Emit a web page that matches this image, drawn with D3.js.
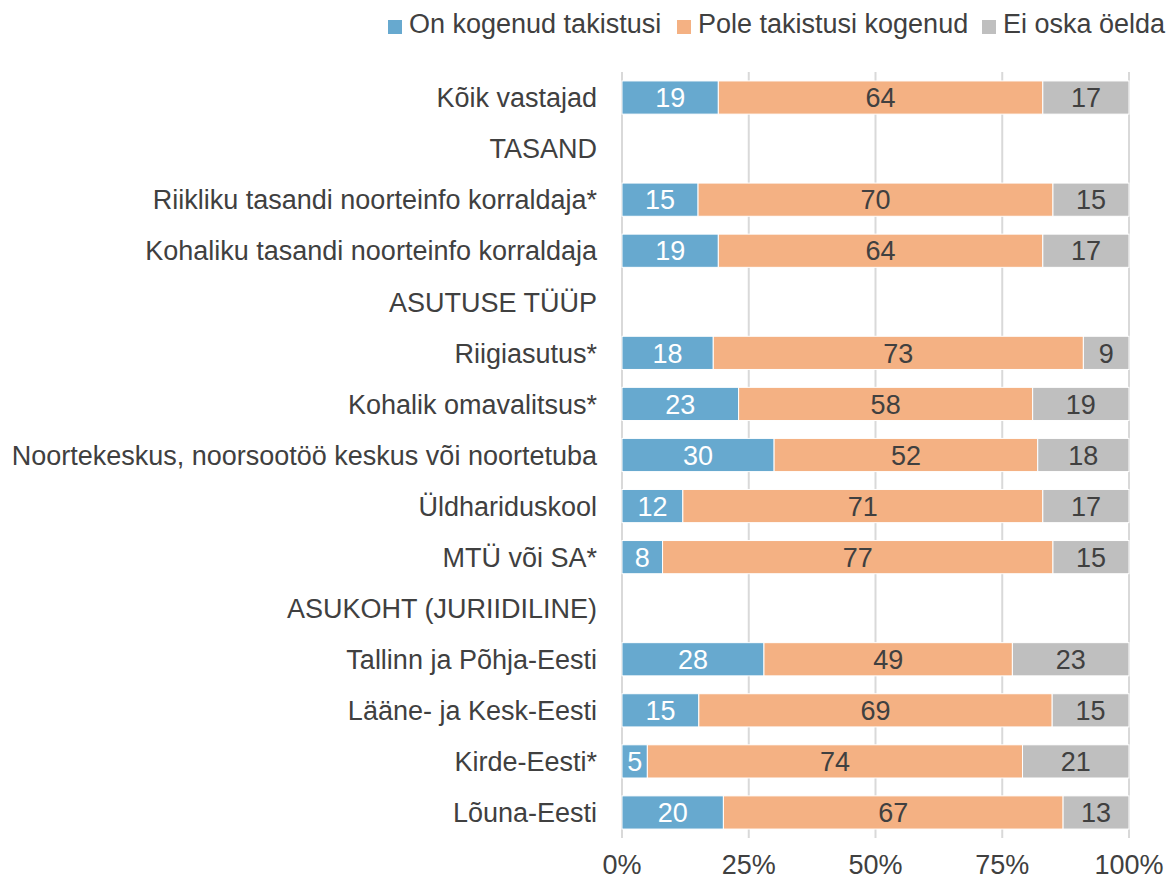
<!DOCTYPE html>
<html>
<head>
<meta charset="utf-8">
<script src="https://cdn.jsdelivr.net/npm/d3@7"></script>
<style>
  body { margin: 0; background: #fff; }
  text { font-family: "Liberation Sans", Arial, sans-serif; }
</style>
</head>
<body>
<svg id="chart" width="1167" height="880"></svg>
<script>
// rows, header rows have null values
const categories = [
  "Kõik vastajad",
  "TASAND",
  "Riikliku tasandi noorteinfo korraldaja*",
  "Kohaliku tasandi noorteinfo korraldaja",
  "ASUTUSE TÜÜP",
  "Riigiasutus*",
  "Kohalik omavalitsus*",
  "Noortekeskus, noorsootöö keskus või noortetuba",
  "Üldhariduskool",
  "MTÜ või SA*",
  "ASUKOHT (JURIIDILINE)",
  "Tallinn ja Põhja-Eesti",
  "Lääne- ja Kesk-Eesti",
  "Kirde-Eesti*",
  "Lõuna-Eesti"
];
const onKogenud = [19, null, 15, 19, null, 18, 23, 30, 12, 8, null, 28, 15, 5, 20];
const poleKogenud = [64, null, 70, 64, null, 73, 58, 52, 71, 77, null, 49, 69, 74, 67];
const eiOska = [17, null, 15, 17, null, 9, 19, 18, 17, 15, null, 23, 15, 21, 13];
const seriesNames = ["On kogenud takistusi", "Pole takistusi kogenud", "Ei oska öelda"];
const seriesColors = ["#67a9cf", "#f4b183", "#bfbfbf"];
const labelColors = ["#ffffff", "#404040", "#404040"];
const tickValues = [0, 0.25, 0.5, 0.75, 1];

const svg = d3.select("#chart");
const margin = { left: 622, right: 38, top: 72, bottom: 42 };
const width = 1167 - margin.left - margin.right;
const plotBottom = 880 - margin.bottom;
const fs = 27;

const x = d3.scaleLinear().domain([0, 1]).range([margin.left, margin.left + width]);
const y = d3.scaleBand().domain(d3.range(categories.length))
  .range([margin.top, plotBottom]).paddingInner(0.35).paddingOuter(0.175);

// gridlines
svg.append("g")
  .selectAll("line")
  .data(tickValues)
  .join("line")
  .attr("x1", d => x(d)).attr("x2", d => x(d))
  .attr("y1", margin.top).attr("y2", plotBottom)
  .attr("stroke", "#d9d9d9").attr("stroke-width", 2);

// 100% stacked rows
const table = categories.map((c, i) => ({ i, a: onKogenud[i], b: poleKogenud[i], c: eiOska[i] }))
  .filter(r => r.a != null);
const stacked = d3.stack().keys(["a", "b", "c"]).offset(d3.stackOffsetExpand)(table);

const segs = [];
stacked.forEach((layer, s) => {
  layer.forEach(p => segs.push({ i: p.data.i, s, v: p.data[layer.key], x0: p[0], x1: p[1] }));
});

svg.append("g")
  .selectAll("rect")
  .data(segs)
  .join("rect")
  .attr("x", d => x(d.x0))
  .attr("y", d => y(d.i))
  .attr("width", d => x(d.x1) - x(d.x0))
  .attr("height", y.bandwidth())
  .attr("fill", d => seriesColors[d.s])
  .attr("stroke", "#fff").attr("stroke-width", 1);

svg.append("g")
  .selectAll("text")
  .data(segs)
  .join("text")
  .attr("x", d => (x(d.x0) + x(d.x1)) / 2)
  .attr("y", d => y(d.i) + y.bandwidth() / 2)
  .attr("dy", "0.36em")
  .attr("text-anchor", "middle")
  .attr("font-size", fs)
  .attr("fill", d => labelColors[d.s])
  .text(d => d.v);

// category labels
svg.append("g")
  .selectAll("text")
  .data(categories)
  .join("text")
  .attr("x", 597)
  .attr("y", (d, i) => y(i) + y.bandwidth() / 2)
  .attr("dy", "0.36em")
  .attr("text-anchor", "end")
  .attr("font-size", fs)
  .attr("fill", "#404040")
  .text(d => d);

// x axis labels
svg.append("g")
  .selectAll("text")
  .data(tickValues)
  .join("text")
  .attr("x", d => x(d))
  .attr("y", 874)
  .attr("text-anchor", "middle")
  .attr("font-size", fs)
  .attr("fill", "#404040")
  .text(d3.format(".0%"));

// legend
const legendX = [388, 677, 982];
const legend = svg.append("g")
  .selectAll("g")
  .data(seriesNames)
  .join("g")
  .attr("transform", (d, i) => `translate(${legendX[i]},0)`);
legend.append("rect")
  .attr("x", 0).attr("y", 20).attr("width", 14).attr("height", 14)
  .attr("fill", (d, i) => seriesColors[i]);
legend.append("text")
  .attr("x", 21)
  .attr("y", 33)
  .attr("font-size", fs).attr("fill", "#404040")
  .text(d => d);
</script>
</body>
</html>
